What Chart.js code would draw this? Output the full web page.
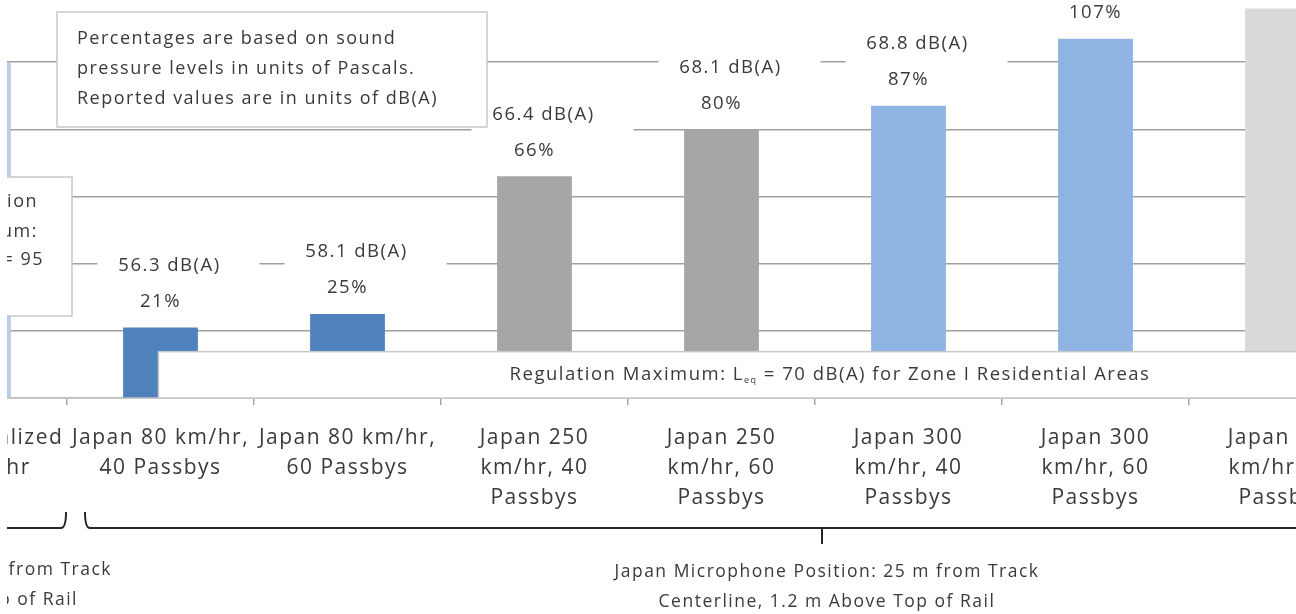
<!DOCTYPE html>
<html>
<head>
    <title>Passby noise vs. regulation maximum</title>
    <script src="https://cdn.jsdelivr.net/npm/chart.js"></script>
    <style>
        body { margin: 0; overflow: hidden; background: #fff; width: 1296px; height: 614px; position: relative; }
        #clip { position: absolute; left: 7px; top: 0; width: 1289px; height: 614px; overflow: hidden; }
        #wrap { position: absolute; left: -127px; top: -5px; width: 1496px; height: 625px; }
    </style>
</head>
<body>
    <div id="clip">
        <div id="wrap">
            <canvas id="noiseChart"></canvas>
        </div>
    </div>

    <script>
        // categories (multi-line x labels)
        var categories = [
            ['HSR Normalized', '300 km/hr'],
            ['Japan 80 km/hr,', '40 Passbys'],
            ['Japan 80 km/hr,', '60 Passbys'],
            ['Japan 250', 'km/hr, 40', 'Passbys'],
            ['Japan 250', 'km/hr, 60', 'Passbys'],
            ['Japan 300', 'km/hr, 40', 'Passbys'],
            ['Japan 300', 'km/hr, 60', 'Passbys'],
            ['Japan 350', 'km/hr, 40', 'Passbys']
        ];
        // percent of regulation maximum (sound pressure in Pa)
        var percentOfMax = [100, 21, 25, 66, 80, 87, 107, 116];
        var percentLabels = ['', '21%', '25%', '66%', '80%', '87%', '107%', ''];
        var levelLabels = ['', '56.3 dB(A)', '58.1 dB(A)', '66.4 dB(A)', '68.1 dB(A)', '68.8 dB(A)', '', ''];
        var barColors = ['#b8cde9', '#4f81bd', '#4f81bd', '#a6a6a6', '#a6a6a6', '#8fb4e3', '#8fb4e3', '#d9d9d9'];
        var yMin = 0, yMax = 120, yStep = 20;

        var FONT = '"Open Sans", sans-serif';
        var INK = '#3a3a3a';

        function box(ctx, x, y, w, h, stroke) {
            ctx.fillStyle = '#ffffff';
            ctx.fillRect(x, y, w, h);
            if (stroke) {
                ctx.strokeStyle = stroke;
                ctx.lineWidth = 1.5;
                ctx.strokeRect(x, y, w, h);
            }
            ctx.fillStyle = INK;
        }

        // a little extra tracking so the text sits wider, like the office font
        var tracking = {
            id: 'tracking',
            beforeUpdate: function(chart) { chart.ctx.letterSpacing = '1.5px'; },
            beforeDraw: function(chart) { chart.ctx.letterSpacing = '1.5px'; }
        };

        // labels, notes and brackets drawn on top of the bars
        var annotations = {
            id: 'annotations',
            afterDatasetsDraw: function(chart) {
                var ctx = chart.ctx;
                var xs = chart.scales.x, ys = chart.scales.y;
                var base = ys.getPixelForValue(0);
                var meta = chart.getDatasetMeta(0);
                ctx.save();
                ctx.letterSpacing = '1.5px';

                // value labels
                ctx.textAlign = 'center';
                ctx.textBaseline = 'middle';
                ctx.font = '18.5px ' + FONT;
                ctx.fillStyle = INK;
                meta.data.forEach(function(bar, i) {
                    if (percentLabels[i]) ctx.fillText(percentLabels[i], bar.x, bar.y - 26);
                });
                meta.data.forEach(function(bar, i) {
                    if (!levelLabels[i]) return;
                    box(ctx, bar.x - 63, bar.y - 80, 162, 43);
                    ctx.fillText(levelLabels[i], bar.x + 9, bar.y - 62);
                });

                // regulation maximum for zone I
                var rx = xs.getPixelForValue(1) - 2;
                var ry = ys.getPixelForValue(13.8);
                box(ctx, rx, ry, chart.width - rx + 10, base - ry, '#c8c8c8');
                ctx.textAlign = 'left';
                var t1 = 'Regulation Maximum: L', t2 = ' = 70 dB(A) for Zone I Residential Areas';
                ctx.font = '18.5px ' + FONT;
                var w1 = ctx.measureText(t1).width, w2 = ctx.measureText(t2).width;
                ctx.font = '9px ' + FONT;
                var ws = ctx.measureText('eq').width;
                var tx = 950 - (w1 + ws + w2) / 2, ty = (ry + base) / 2;
                ctx.font = '18.5px ' + FONT;
                ctx.fillText(t1, tx, ty);
                ctx.font = '9px ' + FONT;
                ctx.fillText('eq', tx + w1, ty + 6);
                ctx.font = '18.5px ' + FONT;
                ctx.fillText(t2, tx + w1 + ws, ty);

                // note box
                box(ctx, 177, 17, 430, 115, '#c8c8c8');
                ctx.font = '18px ' + FONT;
                ['Percentages are based on sound',
                 'pressure levels in units of Pascals.',
                 'Reported values are in units of dB(A)'].forEach(function(s, k) {
                    ctx.fillText(s, 197, 44 + k * 30);
                });

                // regulation box for the normalized bar
                box(ctx, -100, 182, 292, 139, '#c8c8c8');
                ctx.textAlign = 'right';
                ctx.fillText('Regulation', 158, 207);
                ctx.fillText('Maximum:', 158, 237);
                ctx.fillText('Lmax = 95', 164, 265);

                // brackets under the categories
                var by = 533;
                ctx.strokeStyle = '#262626';
                ctx.lineWidth = 2;
                ctx.beginPath();
                ctx.moveTo(0, by);
                ctx.lineTo(181, by);
                ctx.quadraticCurveTo(186, by, 186, by - 16);
                ctx.stroke();
                ctx.beginPath();
                ctx.moveTo(205, by - 16);
                ctx.quadraticCurveTo(205, by, 210, by);
                ctx.lineTo(chart.width, by);
                ctx.moveTo(942, by);
                ctx.lineTo(942, by + 16);
                ctx.stroke();

                ctx.font = '17.5px ' + FONT;
                ctx.textAlign = 'right';
                ctx.fillText('Normalized Microphone Position: 25 m from Track', 232, 575);
                ctx.fillText('Centerline, 1.2 m Above Top of Rail', 198, 605);
                ctx.textAlign = 'center';
                ctx.fillText('Japan Microphone Position: 25 m from Track', 947, 577);
                ctx.fillText('Centerline, 1.2 m Above Top of Rail', 947, 607);

                ctx.restore();
            }
        };

        var ctx = document.getElementById('noiseChart').getContext('2d');
        var noiseChart = new Chart(ctx, {
            type: 'bar',
            data: {
                labels: categories,
                datasets: [{
                    data: percentOfMax,
                    backgroundColor: barColors,
                    borderWidth: 0,
                    barPercentage: 0.4,
                    categoryPercentage: 1.0
                }]
            },
            options: {
                responsive: true,
                maintainAspectRatio: false,
                animation: false,
                layout: { padding: 0 },
                plugins: {
                    legend: { display: false },
                    tooltip: { enabled: false }
                },
                scales: {
                    x: {
                        afterFit: function(scale) {
                            scale.height = 222;
                            scale.paddingLeft = 0;
                            scale.paddingRight = 0;
                        },
                        grid: {
                            offset: true,
                            drawOnChartArea: false,
                            drawTicks: true,
                            tickLength: 7,
                            color: '#a6a6a6',
                            lineWidth: 1.5
                        },
                        border: { color: '#c0c0c0', width: 1.5 },
                        ticks: {
                            autoSkip: false,
                            maxRotation: 0,
                            padding: 18,
                            color: INK,
                            font: { family: FONT, size: 21, lineHeight: 1.42 }
                        }
                    },
                    y: {
                        min: yMin,
                        max: yMax,
                        afterFit: function(scale) { scale.width = 0; },
                        ticks: { display: false, stepSize: yStep },
                        border: { display: false },
                        grid: { color: '#a0a0a0', lineWidth: 1.5, drawTicks: false }
                    }
                }
            },
            plugins: [tracking, annotations]
        });
    </script>
</body>
</html>
